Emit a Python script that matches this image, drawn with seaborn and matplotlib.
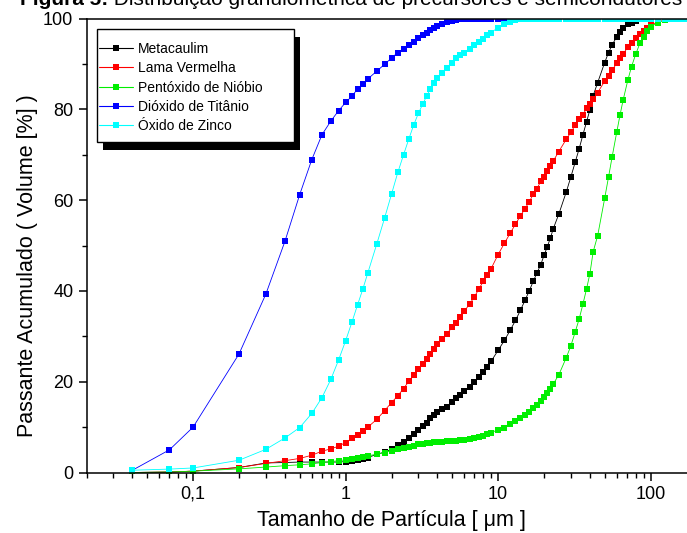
import numpy as np
import matplotlib
matplotlib.use("Agg")
import matplotlib.pyplot as plt
import seaborn as sns
from matplotlib.lines import Line2D
from matplotlib.patches import Rectangle
from matplotlib.ticker import LogLocator, MultipleLocator, NullFormatter

# ---------------- data ----------------
sizes = [0.04, 0.07, 0.1, 0.2, 0.3, 0.4, 0.5, 0.6, 0.7, 0.8, 0.9,
         1.0, 1.1, 1.2, 1.3, 1.4, 1.6, 1.8, 2.0, 2.2, 2.4, 2.6, 2.8, 3.0, 3.2, 3.4, 3.6, 3.8, 4.0, 4.3, 4.6,
         5.0, 5.3, 5.6, 6.0, 6.5, 7.0, 7.5, 8.0, 8.5, 9.0,
         10, 11, 12, 13, 14, 15, 16, 17, 18, 19, 20, 21, 22, 23,
         25, 28, 30, 32, 34, 36, 38, 40, 42, 45,
         50, 53, 56, 60, 63, 66, 71, 75, 80, 85, 90, 95, 100,
         112, 125, 130, 140, 150, 160, 170, 180]

metacaulim = [0.0, 0.1, 0.3, 1.1, 2.1, 2.2, 2.3, 2.3, 2.3, 2.3, 2.3,
              2.4, 2.5, 2.7, 3.0, 3.3, 4.0, 4.5, 5.1, 6.1, 6.8, 7.6, 8.4, 9.4, 10.3, 11.0, 12.0, 12.7, 13.3, 13.9, 14.5,
              15.6, 16.4, 17.1, 17.9, 18.9, 19.9, 21.0, 22.1, 23.3, 24.5,
              26.9, 29.1, 31.3, 33.5, 35.7, 37.9, 40.0, 42.1, 44.0, 45.7, 47.8, 49.7, 51.6, 53.7,
              56.9, 61.8, 65.1, 68.3, 71.3, 74.4, 77.2, 79.9, 83.0, 85.9,
              90.3, 92.5, 94.2, 96.0, 97.1, 98.0, 98.7, 99.1, 99.5, 99.8, 100, 100, 100,
              100, 100, 100, 100, 100, 100, 100, 100]

lama_vermelha = [0.0, 0.1, 0.3, 1.1, 2.0, 2.6, 3.1, 3.8, 4.7, 5.2, 5.8,
                 6.6, 7.5, 8.2, 9.1, 10.0, 11.7, 13.6, 15.4, 16.9, 18.5, 20.1, 21.5, 22.9, 24.0, 25.1, 26.2, 27.2, 28.2, 29.5, 30.5,
                 32.0, 33.0, 34.2, 35.5, 37.1, 38.7, 40.5, 42.1, 43.5, 44.9,
                 48.0, 50.5, 52.7, 54.7, 56.5, 58.1, 59.6, 61.3, 62.5, 64.1, 65.1, 66.3, 67.6, 68.6,
                 70.7, 73.4, 74.9, 76.5, 77.8, 78.8, 80.2, 81.1, 82.2, 83.7,
                 86.2, 87.4, 88.7, 90.1, 91.3, 92.1, 93.8, 94.7, 95.7, 96.6, 97.3, 97.8, 98.5,
                 99.3, 99.7, 100, 100, 100, 100, 100, 100]

pentoxido_niobio = [0.0, 0.1, 0.3, 0.8, 1.2, 1.5, 1.7, 1.9, 2.2, 2.4, 2.6,
                    2.8, 3.0, 3.2, 3.5, 3.7, 4.0, 4.4, 4.8, 5.2, 5.4, 5.7, 5.9, 6.2, 6.3, 6.5, 6.6, 6.7, 6.8, 6.8, 6.9,
                    7.0, 7.0, 7.1, 7.2, 7.3, 7.6, 7.8, 8.1, 8.4, 8.8,
                    9.4, 9.9, 10.6, 11.3, 12.0, 12.6, 13.3, 14.1, 14.9, 15.8, 16.6, 17.6, 18.5, 19.5,
                    21.5, 25.3, 27.9, 30.9, 33.8, 37.1, 40.4, 43.8, 48.6, 52.2,
                    60.4, 65.1, 69.6, 75.0, 78.7, 82.0, 86.5, 89.4, 92.2, 94.5, 96.0, 97.3, 98.2,
                    99.1, 99.7, 100, 100, 100, 100, 100, 100]

dioxido_titanio = [0.5, 5.0, 10.0, 26.1, 39.3, 50.9, 61.2, 68.9, 74.4, 77.4, 79.7,
                   81.5, 82.9, 84.5, 85.6, 86.7, 88.4, 89.9, 91.3, 92.5, 93.2, 94.2, 94.9, 95.7, 96.4, 96.9, 97.4, 97.9, 98.4, 98.8, 99.2,
                   99.5, 99.7, 99.8, 99.9, 100, 100, 100, 100, 100, 100,
                   100, 100, 100, 100, 100, 100, 100, 100, 100, 100, 100, 100, 100, 100,
                   100, 100, 100, 100, 100, 100, 100, 100, 100, 100,
                   100, 100, 100, 100, 100, 100, 100, 100, 100, 100, 100, 100, 100,
                   100, 100, 100, 100, 100, 100, 100, 100]

oxido_zinco = [0.5, 0.75, 1.0, 2.7, 5.1, 7.6, 9.9, 13.0, 16.5, 20.5, 24.8,
               29.0, 33.1, 37.0, 40.5, 44.0, 50.3, 56.0, 61.3, 66.1, 70.0, 73.5, 76.6, 79.1, 81.1, 82.9, 84.5, 85.8, 86.8, 88.1, 89.2,
               90.3, 91.2, 91.9, 92.5, 93.3, 94.2, 94.8, 95.5, 96.3, 96.9,
               98.0, 98.8, 99.3, 99.6, 99.8, 100, 100, 100, 100, 100, 100, 100, 100, 100,
               100, 100, 100, 100, 100, 100, 100, 100, 100, 100,
               100, 100, 100, 100, 100, 100, 100, 100, 100, 100, 100, 100, 100,
               100, 100, 100, 100, 100, 100, 100, 100]

series_names = ["Metacaulim", "Lama Vermelha", "Pentóxido de Nióbio",
                "Dióxido de Titânio", "Óxido de Zinco"]
series_values = [metacaulim, lama_vermelha, pentoxido_niobio, dioxido_titanio, oxido_zinco]
series_colors = ["#000000", "#ff0000", "#00ee00", "#0000ff", "#00ffff"]

x_ticks = [0.1, 1, 10, 100]
x_ticklabels = ["0,1", "1", "10", "100"]
y_ticks = [0, 20, 40, 60, 80, 100]

# ---------------- style ----------------
sns.set_style("ticks", {"axes.edgecolor": "black", "xtick.color": "black",
                        "ytick.color": "black", "text.color": "black",
                        "axes.labelcolor": "black"})
plt.rcParams["font.family"] = ["Liberation Sans", "DejaVu Sans"]

W, H = 687, 533
fig = plt.figure(figsize=(W / 100, H / 100), dpi=100)
fig.patch.set_facecolor("white")


def fx(px):
    return px / W


def fy(py):
    return 1 - py / H


ax = fig.add_axes([fx(86.5), fy(472.5), 610 / W, 454 / H])
ax.set_xscale("log")

for name, vals, col in zip(series_names, series_values, series_colors):
    sns.lineplot(x=sizes, y=vals, ax=ax, color=col, marker="s", markersize=4.5,
                 markeredgewidth=0, linewidth=0.6, estimator=None, sort=False,
                 legend=False)

ax.set_xlim(0.02, 200)
ax.set_ylim(0, 100)
ax.set_xticks(x_ticks)
ax.set_xticklabels(x_ticklabels)
ax.xaxis.set_minor_locator(LogLocator(base=10, subs=np.arange(2, 10), numticks=30))
ax.xaxis.set_minor_formatter(NullFormatter())
ax.set_yticks(y_ticks)
ax.yaxis.set_minor_locator(MultipleLocator(10))
ax.tick_params(which="major", direction="out", length=6, width=1.1, labelsize=13)
ax.tick_params(which="minor", direction="out", length=3.5, width=1.0)
for sp in ax.spines.values():
    sp.set_linewidth(1.1)
    sp.set_color("black")

ax.set_xlabel("Tamanho de Partícula [ μm ]", fontsize=15.5)
ax.set_ylabel("Passante Acumulado ( Volume [%] )", fontsize=15.5)
ax.xaxis.set_label_coords(0.5, -0.083)
ax.yaxis.set_label_coords(-0.08, 0.455)

# legend with boxed frame and black drop shadow
lx0, ly0, lx1, ly1 = 97, 29, 294, 142
fig.add_artist(Rectangle((fx(lx0 + 6), fy(ly1 + 8)), (lx1 - lx0) / W, (ly1 - ly0) / H,
                         transform=fig.transFigure, facecolor="black",
                         edgecolor="none", zorder=3.9))
fig.add_artist(Rectangle((fx(lx0), fy(ly1)), (lx1 - lx0) / W, (ly1 - ly0) / H,
                         transform=fig.transFigure, facecolor="white",
                         edgecolor="black", linewidth=1.0, zorder=4))
handles = [Line2D([], [], color=c, marker="s", markersize=5, markeredgewidth=0,
                  linewidth=0.8) for c in series_colors]
fig.legend(handles, series_names, loc="upper left",
           bbox_to_anchor=(fx(99), fy(42)), bbox_transform=fig.transFigure,
           frameon=False, borderpad=0, borderaxespad=0, handlelength=2.45,
           handletextpad=0.36, labelspacing=0.38, fontsize=10)

# clipped caption at the very top
t1 = fig.text(fx(20), fy(5), "Figura 5:", fontsize=15, fontweight="bold",
              va="baseline", ha="left")
ax.annotate(" Distribuição granulométrica de precursores e semicondutores",
            xy=(1, 0), xycoords=t1, va="bottom", ha="left", fontsize=15,
            annotation_clip=False)

fig.savefig("out.png", dpi=100)
